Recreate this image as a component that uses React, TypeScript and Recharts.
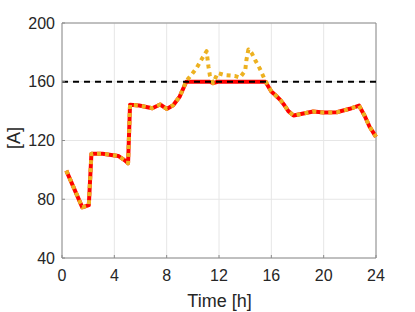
import React from 'react';
import { LineChart, Line, XAxis, YAxis, CartesianGrid, ReferenceLine, Label } from 'recharts';

const hours = [0.33, 1.55, 2.05, 2.25, 3.1, 4.3, 4.8, 5.05, 5.2, 5.9, 6.9, 7.5, 8.0, 8.5, 9.0, 9.5, 9.9, 10.3, 10.65, 11.05, 11.2, 11.3, 11.55, 11.9, 12.45, 13.2, 13.6, 14.0, 14.1, 14.25, 14.5, 14.75, 15.1, 15.55, 16.0, 16.3, 16.7, 17.0, 17.3, 17.7, 19.2, 20.0, 21.0, 22.0, 22.7, 23.15, 23.5, 24];
const original = [99.5, 74.5, 76, 111, 111, 109.5, 106.5, 104.5, 144.3, 143.8, 142, 144.5, 141.5, 144, 150, 160.5, 164.8, 169.5, 175, 180.8, 170, 164.5, 159, 166, 164.5, 164, 162.8, 167.5, 175, 182, 179.5, 175, 169.3, 160.5, 153.4, 151, 147.5, 144, 140, 137, 139.7, 139, 139.2, 141.6, 143.8, 136.5, 129.5, 122.5];
const capped = [99.5, 74.5, 76, 111, 111, 109.5, 106.5, 104.5, 144.3, 143.8, 142, 144.5, 141.5, 144, 150, 160, 160, 160, 160, 160, 160, 160, 159, 160, 160, 160, 160, 160, 160, 160, 160, 160, 160, 160, 153.4, 151, 147.5, 144, 140, 137, 139.7, 139, 139.2, 141.6, 143.8, 136.5, 129.5, 122.5];
const limit = 160;
const xTicks = [0, 4, 8, 12, 16, 20, 24];
const yTicks = [40, 80, 120, 160, 200];

const data = hours.map((t, i) => ({ t, orig: original[i], cap: capped[i] }));

const FONT = '"Liberation Sans", Arial, Helvetica, sans-serif';
const AXIS = '#8c8c8c';
const TXT = '#262626';
const X_MARGIN = 12;
const Y_MARGIN = 7;
const TICK_LEN = 3;

const XTick = (props: any) => {
  const { x, y, payload } = props;
  const axisY = y - X_MARGIN;
  return (
    <g>
      <line x1={x} x2={x} y1={axisY} y2={axisY - TICK_LEN} stroke={AXIS} />
      <text x={x} y={y} dy="0.71em" textAnchor="middle" fill={TXT} fontSize={16} fontFamily={FONT}>{payload.value}</text>
    </g>
  );
};

const YTick = (props: any) => {
  const { x, y, payload } = props;
  const axisX = x + Y_MARGIN;
  return (
    <g>
      <line x1={axisX} x2={axisX + TICK_LEN} y1={y} y2={y} stroke={AXIS} />
      <text x={x} y={y} dy="0.355em" textAnchor="end" fill={TXT} fontSize={16} fontFamily={FONT}>{payload.value}</text>
    </g>
  );
};

export default function App() {
  return (
    <div style={{ position: 'absolute', left: 0, top: 0, width: 415, height: 312, background: '#fff' }}>
      <LineChart width={415} height={312} data={data} margin={{ top: 23, right: 39, bottom: 0, left: 0 }} style={{ fontFamily: FONT }}>
        <CartesianGrid stroke="#e6e6e6" strokeWidth={1} />
        <XAxis
          dataKey="t"
          type="number"
          domain={[0, 24]}
          ticks={xTicks}
          height={54}
          stroke={AXIS}
          tickLine={false}
          tickSize={0}
          tickMargin={X_MARGIN}
          tick={<XTick />}
          interval={0}
        >
          <Label
            content={() => (
              <text x={219.5} y={307} textAnchor="middle" fill={TXT} fontSize={18} fontFamily={FONT}>Time [h]</text>
            )}
          />
        </XAxis>
        <YAxis
          type="number"
          domain={[40, 200]}
          ticks={yTicks}
          width={62}
          stroke={AXIS}
          tickLine={false}
          tickSize={0}
          tickMargin={Y_MARGIN}
          tick={<YTick />}
          interval={0}
        >
          <Label
            content={() => (
              <text x={14} y={138} dy="0.35em" transform="rotate(-90 14 138)" textAnchor="middle" fill={TXT} fontSize={18} fontFamily={FONT}>[A]</text>
            )}
          />
        </YAxis>
        <ReferenceLine y={200} stroke={AXIS} strokeWidth={1} />
        <ReferenceLine x={24} stroke={AXIS} strokeWidth={1} />
        <Line dataKey="cap" type="linear" stroke="#ff0000" strokeWidth={4} strokeLinejoin="round" dot={false} isAnimationActive={false} />
        <Line dataKey="orig" type="linear" stroke="#edb120" strokeWidth={4} strokeLinejoin="round" strokeDasharray="4 4" dot={false} isAnimationActive={false} />
        <ReferenceLine y={limit} stroke="#000" strokeWidth={2} strokeDasharray="6 5" />
      </LineChart>
    </div>
  );
}
